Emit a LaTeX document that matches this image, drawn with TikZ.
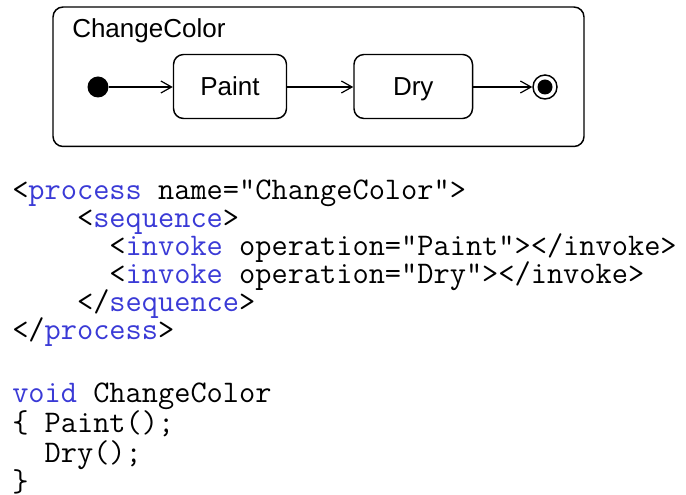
\documentclass[tikz,border=0pt]{standalone}
\usepackage{fontspec}
\setmainfont{Liberation Sans}
\usetikzlibrary{arrows.meta}
\definecolor{kwblue}{RGB}{58,58,214}
\newcommand\kw[1]{\textcolor{kwblue}{#1}}
\tikzset{
  statebox/.style={draw, line width=1.1pt, rounded corners=7.5pt, inner sep=0pt,
    font=\fontsize{19.5}{22}\selectfont, text height=13.9pt, text depth=0pt},
  flow/.style={line width=0.9pt, -{Straight Barb[length=8pt,width=9pt,line width=0.9pt]}},
  codeline/.style={anchor=base west, inner sep=0pt, text height=14pt, text depth=4pt,
    font=\ttfamily\fontsize{23.6}{27}\selectfont}
}
\begin{document}
\begin{tikzpicture}[x=0.75pt,y=-0.75pt]
\useasboundingbox (0,0) rectangle (686,495);
% state machine of the process
\node[draw, line width=1.1pt, rounded corners=7.5pt, inner sep=0pt,
  minimum width=398.25pt, minimum height=104.6pt] (proc) at (318.5,76.75) {};
\node[anchor=base west, inner sep=0pt, font=\fontsize{19.5}{22}\selectfont] (title) at (72,37.3) {ChangeColor};
\node[circle, fill=black, minimum size=15.75pt, inner sep=0pt] (init) at (98,87) {};
\node[statebox, minimum width=84.75pt, minimum height=48pt] (paint) at (230,86.5) {Paint};
\node[statebox, minimum width=88.9pt, minimum height=48pt] (dry) at (413.25,86.5) {Dry};
\node[circle, draw, line width=1.1pt, minimum size=18pt, inner sep=0pt] (fin) at (545,87) {};
\node[circle, fill=black, minimum size=11.25pt, inner sep=0pt] (findot) at (fin.center) {};
\draw[flow] (init) -- (paint.west |- init);
\draw[flow] (paint.east |- init) -- (dry.west |- init);
\draw[flow] (dry.east |- init) -- (fin);
% BPEL listing
\node[codeline] (l1) at (12,200) {<\kw{process} name=“ChangeColor”>};
\node[codeline] (l2) at (12,228) {\ \ \ \ <\kw{sequence}>};
\node[codeline] (l3) at (12,256) {\ \ \ \ \ \ <\kw{invoke} operation=“Paint”></invoke>};
\node[codeline] (l4) at (12,284) {\ \ \ \ \ \ <\kw{invoke} operation=“Dry”></invoke>};
\node[codeline] (l5) at (12,312) {\ \ \ \ </\kw{sequence}>};
\node[codeline] (l6) at (12,340) {</\kw{process}>};
% equivalent C code
\node[codeline] (c1) at (12,403) {\kw{void} ChangeColor};
\node[codeline] (c2) at (12,433) {\{ Paint();};
\node[codeline] (c3) at (12,463) {\ \ Dry();};
\node[codeline] (c4) at (12,491) {\}};
\end{tikzpicture}
\end{document}
